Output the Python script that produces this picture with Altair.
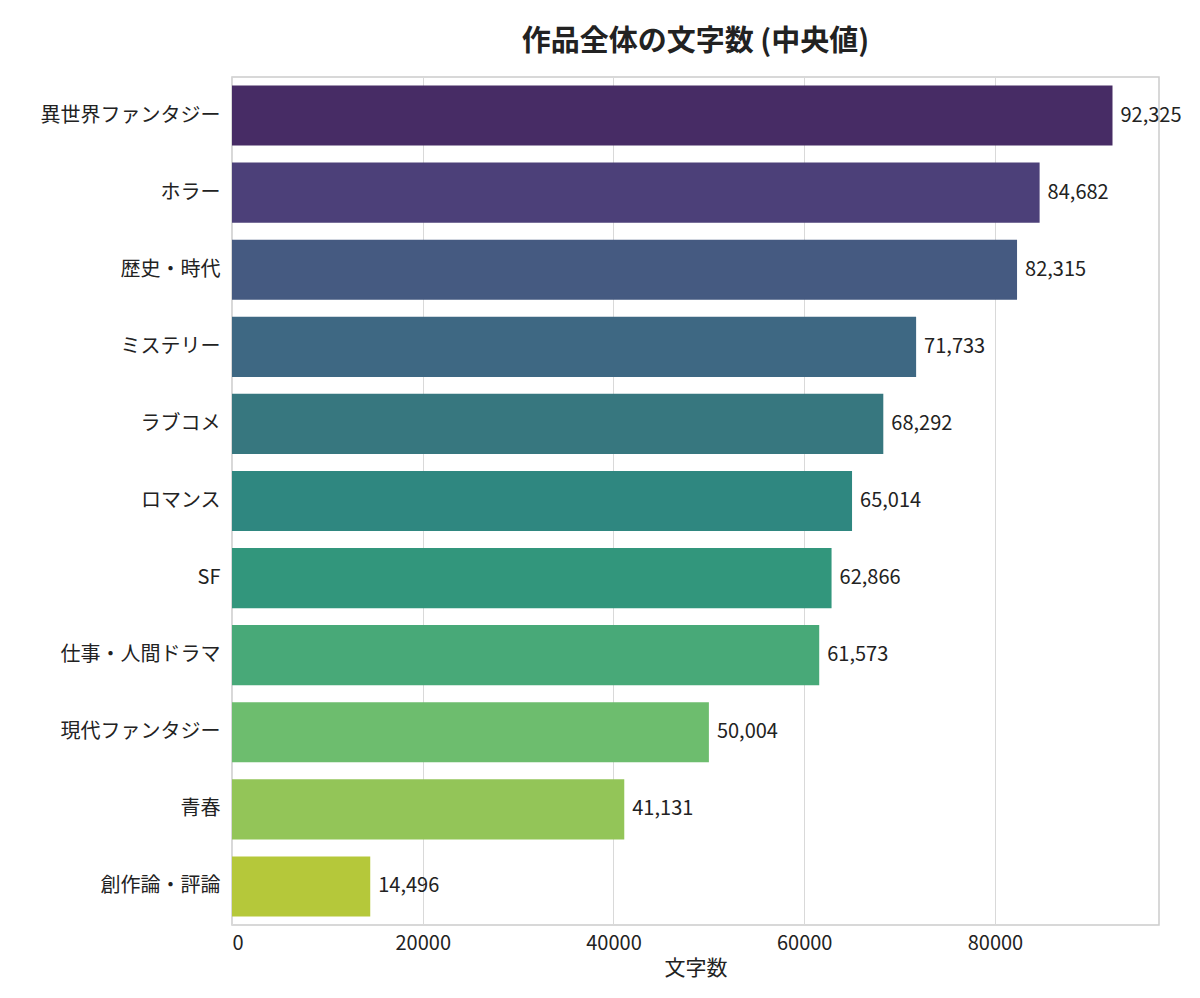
import altair as alt
import pandas as pd

genres = ["異世界ファンタジー", "ホラー", "歴史・時代", "ミステリー", "ラブコメ", "ロマンス",
          "SF", "仕事・人間ドラマ", "現代ファンタジー", "青春", "創作論・評論"]
values = [92325, 84682, 82315, 71733, 68292, 65014, 62866, 61573, 50004, 41131, 14496]
colors = ["#472c65", "#4c4079", "#455a81", "#3e6883", "#37777f", "#2f8780",
          "#32967c", "#48a978", "#6dbd6e", "#93c558", "#b5c83a"]

df = pd.DataFrame({"genre": genres, "value": values})
df["label"] = df["value"].map(lambda v: f"{v:,}")

font = "Noto Sans CJK JP"
y = alt.Y("genre:N", sort=genres, title=None,
          scale=alt.Scale(paddingInner=0.22, paddingOuter=0.11),
          axis=alt.Axis(labelFontSize=20, labelColor="#222", ticks=False, labelPadding=12, domain=False))
x = alt.X("value:Q", title="文字数", scale=alt.Scale(domain=[0, 97200], nice=False),
          axis=alt.Axis(values=[0, 20000, 40000, 60000, 80000], format="d", labelFontSize=20,
                        titleFontSize=21, titleFontWeight="normal", labelColor="#222", titleColor="#222",
                        gridColor="#d9d9d9", ticks=False, domain=False, labelPadding=8))

bars = alt.Chart(df).mark_bar().encode(
    x=x, y=y,
    color=alt.Color("genre:N", sort=genres, scale=alt.Scale(domain=genres, range=colors), legend=None),
)
text = alt.Chart(df).mark_text(align="left", dx=8, fontSize=20, color="#222", font=font).encode(
    x="value:Q", y=alt.Y("genre:N", sort=genres), text="label:N")

chart = (bars + text).properties(
    width=927, height=848,
    padding={"left": 32, "top": 20, "right": 5, "bottom": 5},
    title=alt.TitleParams("作品全体の文字数 (中央値)", fontSize=29, fontWeight="bold", color="#222", offset=20),
).configure(font=font).configure_view(stroke="#cccccc", strokeWidth=1.5)

chart.save("out.html", embed_options={"renderer": "svg", "actions": False})
